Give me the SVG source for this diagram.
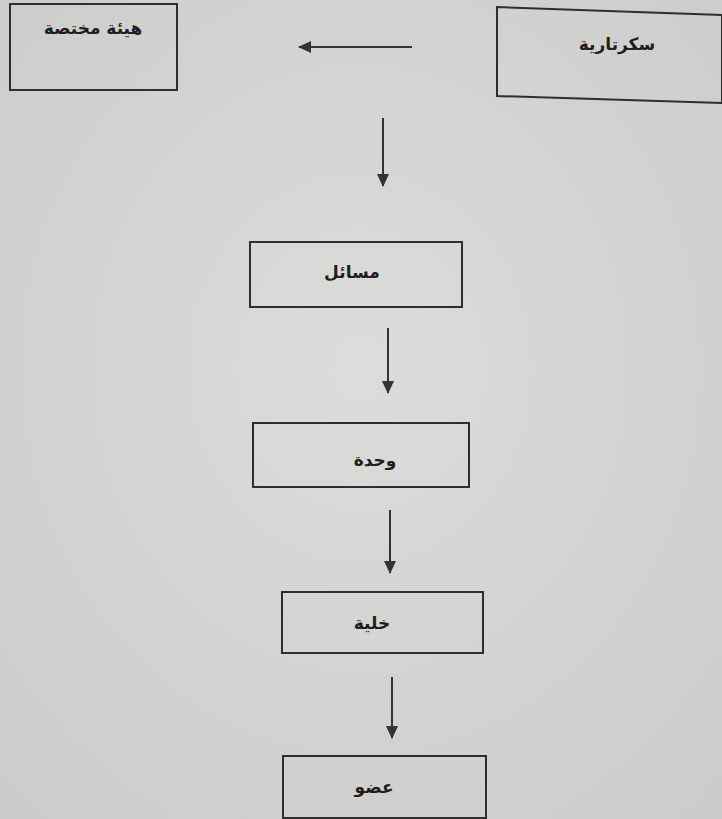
<svg xmlns="http://www.w3.org/2000/svg" width="722" height="819" viewBox="0 0 722 819">
<style>
.box{fill:none;stroke:#2e2e2e;stroke-width:2}
.lbl{font-family:"DejaVu Sans","Noto Sans",sans-serif;font-weight:bold;font-size:17px;fill:#1e1e1e;text-anchor:middle;direction:rtl}
.con{stroke:#333;stroke-width:2;fill:none}
</style>
<defs>
<marker id="ah" markerWidth="13" markerHeight="12" refX="12" refY="6" orient="auto" markerUnits="userSpaceOnUse" viewBox="0 0 13 12">
<path d="M0,0 L13,6 L0,12 Z" fill="#333"/>
</marker>
<radialGradient id="bg" cx="50%" cy="45%" r="75%">
<stop offset="0" stop-color="#dcdcda"/>
<stop offset="1" stop-color="#cbcbc9"/>
</radialGradient>
</defs>
<rect x="0" y="0" width="722" height="819" fill="url(#bg)"/>
<g id="n-hayaa">
<rect class="box" x="10" y="4" width="167" height="86"/>
<text class="lbl" x="93" y="34">هيئة مختصة</text>
</g>
<g id="n-secretariat">
<polygon class="box" points="497,7 722,15 722,103 497,96"/>
<text class="lbl" x="617" y="50">سكرتارية</text>
</g>
<g id="n-masail">
<rect class="box" x="250" y="242" width="212" height="65"/>
<text class="lbl" x="352" y="278">مسائل</text>
</g>
<g id="n-wahda">
<rect class="box" x="253" y="423" width="216" height="64"/>
<text class="lbl" x="375" y="466">وحدة</text>
</g>
<g id="n-khaliya">
<rect class="box" x="282" y="592" width="201" height="61"/>
<text class="lbl" x="372" y="629">خلية</text>
</g>
<g id="n-udw">
<rect class="box" x="283" y="756" width="203" height="62"/>
<text class="lbl" x="374" y="793">عضو</text>
</g>
<g id="connectors">
<line class="con" x1="412" y1="47" x2="299" y2="47" marker-end="url(#ah)"/>
<line class="con" x1="383" y1="118" x2="383" y2="186" marker-end="url(#ah)"/>
<line class="con" x1="388" y1="328" x2="388" y2="393" marker-end="url(#ah)"/>
<line class="con" x1="390" y1="510" x2="390" y2="573" marker-end="url(#ah)"/>
<line class="con" x1="392" y1="677" x2="392" y2="738" marker-end="url(#ah)"/>
</g>
</svg>
